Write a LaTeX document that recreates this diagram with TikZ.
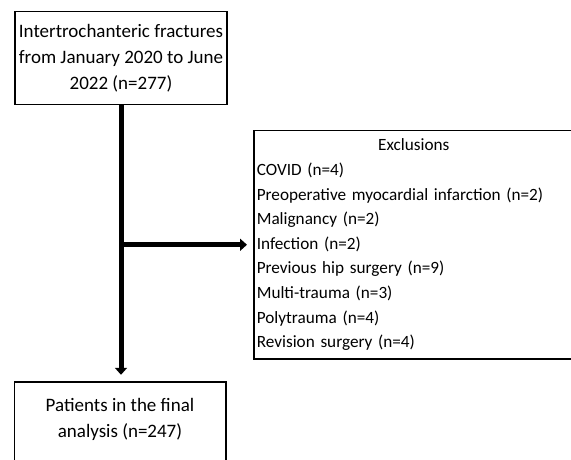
\documentclass[tikz,border=0pt]{standalone}
\usepackage{fontspec}
\setmainfont{Carlito}
\usetikzlibrary{arrows.meta}
\begin{document}
\begin{tikzpicture}[x=1pt,y=-1pt,
  boxline/.style={line width=1.6pt},
  flowtxt/.style={font=\fontsize{19}{26}\selectfont, align=center, inner sep=0pt},
  bigarrow/.style={line width=5pt, -{Triangle[width=12pt,length=7pt]}}]
\useasboundingbox (0,0) rectangle (571,459);
\clip (0,0) rectangle (571,459);
\node[flowtxt, draw, boxline, minimum width=212pt, minimum height=93pt] (top) at (121,58)
  {Intertrochanteric fractures\\from January 2020 to June\\2022 (n=277)};
\node[flowtxt, minimum width=211pt, minimum height=75pt] (final) at (120,419.5)
  {Patients in the final\\analysis (n=247)};
\draw[boxline] ([yshift=-20pt]final.south west) -- (final.north west) -- (final.north east) -- ([yshift=-20pt]final.south east);
\node[draw, boxline, anchor=west, text width=314pt, inner xsep=3pt, inner ysep=0pt,
  minimum height=228.5pt, font=\fontsize{17.2}{24.6}\selectfont] (excl) at (253,244.75)
  {\centering Exclusions\par\raggedright
   COVID (n=4)\\
   Preoperative myocardial infarction (n=2)\\
   Malignancy (n=2)\\
   Infection (n=2)\\
   Previous hip surgery (n=9)\\
   Multi-trauma (n=3)\\
   Polytrauma (n=4)\\
   Revision surgery (n=4)\par};
\coordinate (branch) at (121,244.75);
\draw[bigarrow] (top.south -| branch) -- ([yshift=7pt]final.north -| branch);
\draw[bigarrow, shorten >=6pt] (branch) -- (excl.west);
\end{tikzpicture}
\end{document}
